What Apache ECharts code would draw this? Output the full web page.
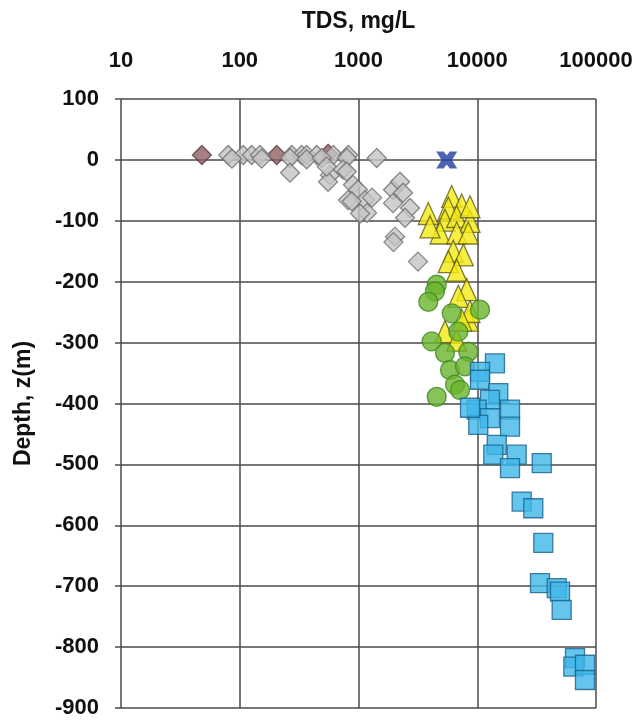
<!DOCTYPE html>
<html>
<head>
<meta charset="utf-8">
<script src="https://cdn.jsdelivr.net/npm/echarts@6/dist/echarts.min.js"></script>
<style>
  html, body { margin: 0; padding: 0; background: #fff; }
  #chart { width: 636px; height: 722px; }
</style>
</head>
<body>
<div id="chart"></div>
<script>
// TDS (mg/L) vs depth (m) for several sample groups
const xTicks = [10, 100, 1000, 10000, 100000];
const yTicks = [100, 0, -100, -200, -300, -400, -500, -600, -700, -800, -900];

// Shallow fresh samples (brown diamonds)
const brownPts = [
  [48, 8], [205, 8], [554, 10]
];

// Shallow / near-surface samples (grey diamonds)
const greyPts = [
  [80, 8], [107, 8], [126, 8], [148, 8], [274, 8], [332, 8], [366, 8], [445, 8],
  [614, 8], [820, 8], [1423, 3],
  [86, 2], [153, 2], [265, 3], [366, 1], [490, 3], [796, 3],
  [265, -21], [575, -25], [554, -36], [740, -16], [899, -41], [990, -49],
  [816, -66], [1134, -66], [1300, -62], [1180, -87], [1953, -49], [2236, -36],
  [2371, -54], [1953, -71], [2716, -79], [2464, -95], [2030, -126], [1970, -135],
  [3170, -167], [877, -68], [1030, -88], [796, -19], [540, -11]
];

// Intermediate aquifer (yellow triangles)
const yellowPts = [
  [6095, -60], [7396, -74], [3871, -88], [5704, -79], [5350, -99], [6714, -93],
  [8690, -101], [8690, -77], [4856, -120], [6714, -120], [8410, -120], [4000, -110],
  [6285, -150], [7634, -156], [5704, -167], [6714, -181], [8150, -213], [6925, -224],
  [8410, -263], [5350, -282], [8690, -249], [6714, -296], [7396, -263]
];

// Deeper aquifer (green circles)
const greenPts = [
  [4557, -205], [4406, -216], [3871, -233], [10550, -246], [6095, -252], [6925, -282],
  [4133, -298], [5350, -317], [8410, -315], [5898, -345], [7884, -339], [6500, -369],
  [7160, -378], [4557, -389]
];

// Deep brines (blue squares)
const bluePts = [
  [14100, -334], [10550, -348], [10550, -361], [15040, -383], [12800, -394],
  [9890, -410], [18880, -410], [12800, -424], [10200, -435], [18880, -438],
  [8690, -407], [14590, -468], [13650, -484], [21480, -484], [18880, -506],
  [34900, -498], [23660, -561], [29650, -572], [35980, -629], [33750, -695],
  [46680, -703], [49770, -709], [51400, -739], [66560, -818], [64400, -832],
  [80750, -829], [80750, -854]
];

// Surface water sample (blue cross)
const crossPts = [
  [5535, 0]
];

const FONT = 'Liberation Sans, Arial, sans-serif';
const GRID_COLOR = '#4a4a4a';
const crossPath = 'path://M0,0 L7,0 L10,4 L13,0 L20,0 L15,9 L20,18 L13,18 L10,14 L7,18 L0,18 L5,9 Z';

const chart = echarts.init(document.getElementById('chart'), null, { renderer: 'canvas' });

chart.setOption({
  animation: false,
  backgroundColor: '#fff',
  grid: { left: 121, top: 99, width: 475, height: 609, containLabel: false },
  xAxis: {
    type: 'log',
    logBase: 10,
    position: 'top',
    min: xTicks[0],
    max: xTicks[xTicks.length - 1],
    name: 'TDS, mg/L',
    nameLocation: 'middle',
    nameGap: 66,
    nameTextStyle: { fontFamily: FONT, fontWeight: 'bold', fontSize: 23, color: '#111' },
    axisLine: { show: false },
    axisTick: { show: false },
    axisLabel: {
      margin: 27,
      fontFamily: FONT, fontWeight: 'bold', fontSize: 22, color: '#111',
      formatter: v => String(Math.round(v))
    },
    splitLine: { show: true, lineStyle: { color: GRID_COLOR, width: 1.5 } }
  },
  yAxis: {
    type: 'value',
    min: yTicks[yTicks.length - 1],
    max: yTicks[0],
    interval: 100,
    name: 'Depth, z(m)',
    nameLocation: 'middle',
    nameGap: 86,
    nameTextStyle: { fontFamily: FONT, fontWeight: 'bold', fontSize: 23, color: '#111' },
    axisLine: { show: false },
    axisTick: { show: true, inside: false, length: 6, lineStyle: { color: GRID_COLOR, width: 1.5 } },
    axisLabel: { margin: 22, fontFamily: FONT, fontWeight: 'bold', fontSize: 22, color: '#111' },
    splitLine: { show: true, lineStyle: { color: GRID_COLOR, width: 1.5 } }
  },
  series: [
    {
      type: 'scatter', name: 'brown', data: brownPts,
      symbol: 'diamond', symbolSize: 19,
      itemStyle: { color: '#8f5f63', borderColor: '#5a3a3c', borderWidth: 1.3 }
    },
    {
      type: 'scatter', name: 'grey', data: greyPts,
      symbol: 'diamond', symbolSize: 19,
      itemStyle: { color: '#c4c4c4', borderColor: '#6e6e6e', borderWidth: 1.3 }
    },
    {
      type: 'scatter', name: 'yellow', data: yellowPts,
      symbol: 'triangle', symbolSize: [20, 22],
      itemStyle: { color: '#f5ea14', borderColor: '#5e5a16', borderWidth: 1.3 }
    },
    {
      type: 'scatter', name: 'green', data: greenPts,
      symbol: 'circle', symbolSize: 19,
      itemStyle: { color: '#6ab42e', borderColor: '#3d861d', borderWidth: 1.3 }
    },
    {
      type: 'scatter', name: 'blue', data: bluePts,
      symbol: 'rect', symbolSize: 19,
      itemStyle: { color: '#3fb6e8', borderColor: '#1a6088', borderWidth: 1.3 }
    },
    {
      type: 'scatter', name: 'cross', data: crossPts,
      symbol: crossPath, symbolSize: [21, 17],
      itemStyle: { color: '#1f3fa0' }
    }
  ]
});
</script>
</body>
</html>
